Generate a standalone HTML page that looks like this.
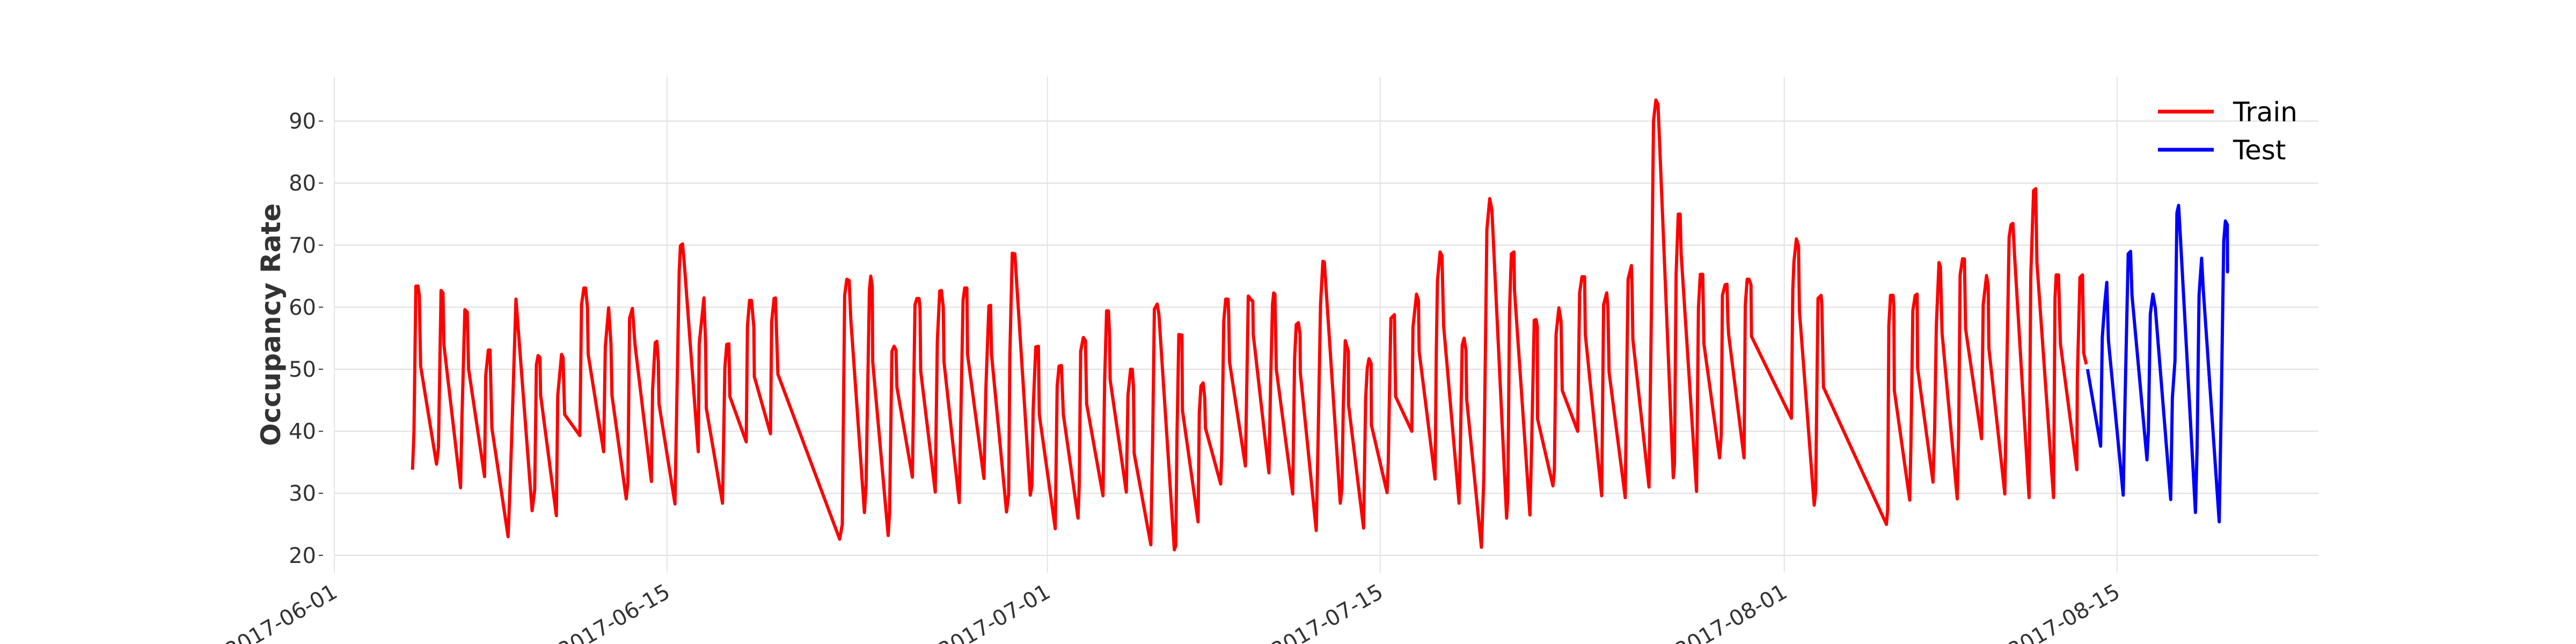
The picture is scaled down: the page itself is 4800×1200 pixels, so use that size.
<!DOCTYPE html>
<html><head><meta charset="utf-8">
<style>
html,body{margin:0;padding:0;background:#fff;}
svg{display:block;}
text{font-family:"DejaVu Sans","Liberation Sans",sans-serif;}
</style></head>
<body>
<svg id="chart" width="4800" height="1200" viewBox="0 0 4800 1200" xmlns="http://www.w3.org/2000/svg">
<g id="grid"></g>
<g id="yaxis"></g>
<g id="xaxis"></g>
<text x="0" y="0" transform="translate(522,605) rotate(-90)" text-anchor="middle" font-size="50" font-weight="bold" fill="#333">Occupancy Rate</text>
<g id="series"></g>
<g>
  <line x1="4021" y1="208" x2="4125" y2="208" stroke="#ff0000" stroke-width="7"/>
  <text x="4161" y="226" font-size="50" fill="#000">Train</text>
  <line x1="4021" y1="279" x2="4125" y2="279" stroke="#0000ff" stroke-width="7"/>
  <text x="4161" y="297" font-size="50" fill="#000">Test</text>
</g>
</svg>
<script>
// x values are days since 2017-06-01
const yTicks = [20,30,40,50,60,70,80,90];
const xTickDays = [0,14,30,44,61,75];
const xTickLabels = ["2017-06-01","2017-06-15","2017-07-01","2017-07-15","2017-08-01","2017-08-15"];

const trainDays = [3.29,3.35,3.43,3.52,3.575,3.63,4.30,4.38,4.49,4.57,4.61,5.31,5.37,5.49,5.59,5.65,6.32,6.37,6.48,6.55,6.63,7.31,7.39,7.46,7.64,8.32,8.43,8.50,8.57,8.65,8.68,9.34,9.40,9.56,9.62,9.69,10.33,10.40,10.50,10.57,10.65,10.68,11.33,11.40,11.54,11.64,11.68,12.28,12.35,12.42,12.54,12.65,13.34,13.39,13.50,13.57,13.63,13.66,14.33,14.51,14.56,14.65,14.73,15.31,15.35,15.55,15.62,15.65,16.33,16.43,16.51,16.60,16.64,17.33,17.38,17.47,17.55,17.65,17.67,18.35,18.40,18.50,18.56,18.66,
21.26,21.37,21.47,21.56,21.66,21.73,22.30,22.37,22.51,22.57,22.63,22.65,23.30,23.36,23.46,23.55,23.63,23.67,24.32,24.43,24.51,24.60,24.64,24.67,25.28,25.37,25.47,25.54,25.62,25.65,26.29,26.45,26.52,26.61,26.64,27.33,27.41,27.54,27.61,27.65,28.28,28.37,28.42,28.52,28.63,29.28,29.35,29.40,29.51,29.62,29.66,30.33,30.41,30.49,30.59,30.67,31.29,31.34,31.40,31.51,31.60,31.65,32.34,32.41,32.49,32.57,32.61,32.64,33.32,33.39,33.50,33.57,33.62,33.65,34.35,34.43,34.50,34.62,34.69,
35.34,35.40,35.45,35.53,35.66,35.68,36.34,36.39,36.46,36.55,36.62,36.65,37.29,37.34,37.42,37.50,37.60,37.63,37.66,38.33,38.38,38.45,38.59,38.64,38.66,39.32,39.39,39.47,39.52,39.57,39.63,40.32,40.40,40.47,40.56,40.63,40.64,41.31,41.39,41.49,41.59,41.65,42.32,42.39,42.45,42.53,42.66,42.67,43.30,43.39,43.46,43.53,43.62,43.63,44.29,44.34,44.39,44.45,44.60,44.65,45.33,45.38,45.53,45.61,45.64,46.31,46.36,46.41,46.52,46.60,46.67,47.32,47.37,47.45,47.53,47.61,47.64,48.26,48.36,48.49,48.61,48.70,49.32,49.37,49.44,49.52,49.63,49.65,50.30,50.37,50.48,50.56,50.61,50.62,
51.27,51.33,51.40,51.52,51.61,51.66,52.31,52.39,52.49,52.60,52.63,53.32,53.40,53.53,53.58,53.63,54.31,54.36,54.43,54.57,54.60,54.63,55.31,55.40,55.50,55.60,55.69,56.33,56.38,56.45,56.54,56.62,56.66,57.31,57.39,57.47,57.57,57.62,58.28,58.35,58.40,58.51,58.59,58.63,58.66,59.31,59.36,59.44,59.52,59.60,59.62,61.30,61.36,61.41,61.51,61.60,61.64,62.26,62.32,62.42,62.55,62.58,62.65,65.30,65.35,65.40,65.47,65.58,65.61,65.63,66.28,66.33,66.41,66.51,66.59,66.61,
67.26,67.33,67.40,67.51,67.57,67.64,68.28,68.34,68.40,68.50,68.58,68.63,69.30,69.37,69.51,69.58,69.61,70.28,70.34,70.46,70.54,70.62,70.70,71.30,71.37,71.49,71.58,71.63,72.33,72.39,72.44,72.54,72.62,73.31,73.33,73.44,73.55,73.60,73.71];
const trainValues = [33.8,40.0,63.4,63.4,61.9,50.5,34.7,37.4,62.7,62.3,53.9,30.9,42.2,59.6,59.2,50.0,32.7,49.0,53.1,53.1,40.5,23.0,30.8,38.8,61.3,27.2,30.6,50.7,52.2,51.9,45.8,26.4,45.8,52.4,51.9,42.7,39.3,60.4,63.1,63.1,59.9,52.4,36.7,53.6,59.9,54.1,45.8,29.1,31.8,58.2,59.8,53.9,31.9,46.6,54.3,54.5,51.2,44.4,28.3,65.7,69.9,70.2,66.7,36.7,54.1,61.5,54.1,43.7,28.4,50.2,54.0,54.1,45.6,38.3,57.0,61.1,61.1,56.8,48.8,39.6,57.7,61.4,61.5,49.2,
22.6,25.0,61.9,64.5,64.3,58.0,26.9,31.3,62.8,65.0,63.3,51.2,23.2,26.9,52.9,53.7,53.1,47.1,32.6,60.4,61.4,61.4,59.9,49.7,30.2,54.6,62.6,62.7,59.9,51.2,28.5,61.1,63.1,63.1,52.4,32.4,46.8,60.2,60.3,52.4,27.0,29.8,52.2,68.7,68.6,29.7,31.3,43.4,53.6,53.7,42.7,24.3,47.3,50.5,50.6,42.7,26.0,31.3,52.9,55.1,54.6,44.4,29.6,48.3,59.4,59.4,55.8,48.3,30.2,45.8,50.0,50.0,47.3,36.4,21.7,39.3,59.7,60.5,58.9,
20.9,21.6,39.0,55.6,55.5,43.4,25.4,42.9,47.3,47.8,45.4,40.5,31.5,37.1,57.7,61.3,61.3,58.5,51.2,34.4,45.8,61.8,61.1,61.0,55.6,33.3,47.8,60.4,62.3,62.1,50.0,29.9,51.7,57.2,57.5,55.6,49.5,24.0,39.1,60.4,67.4,67.3,28.4,30.8,44.4,54.6,52.9,44.2,24.4,45.4,50.2,51.7,50.9,41.0,30.1,34.9,45.8,58.2,58.8,45.6,40.0,56.8,62.1,61.1,52.9,32.3,52.6,64.3,68.9,68.3,57.0,28.4,36.6,53.9,55.0,53.1,45.1,21.3,32.5,72.5,77.5,75.7,26.0,29.3,59.0,68.6,68.9,62.8,26.5,37.4,57.9,58.0,56.8,42.0,
31.2,33.7,55.6,59.9,57.7,46.6,40.0,62.3,64.9,64.9,55.6,29.6,60.4,62.3,59.9,49.5,29.3,44.9,64.5,66.7,62.8,54.8,31.0,56.0,90.0,93.4,92.7,32.5,34.7,65.3,75.0,75.0,68.7,30.3,59.9,65.3,65.3,54.1,35.7,39.5,61.9,63.6,63.7,57.7,55.6,35.7,60.4,64.5,64.5,63.6,55.3,42.1,62.8,67.4,71.0,69.9,59.4,28.1,30.3,61.4,61.9,60.4,47.1,25.0,27.4,57.0,61.9,61.9,59.9,46.6,28.9,38.1,59.4,61.9,62.1,50.2,
31.8,40.5,57.0,67.2,66.5,55.8,29.1,40.5,65.2,67.8,67.8,56.5,38.8,60.4,65.1,63.5,53.4,29.9,44.9,71.3,73.3,73.5,67.7,29.3,64.8,78.8,79.1,67.2,29.3,61.4,65.2,65.2,54.1,33.8,48.5,64.8,65.2,52.6,50.8];

const testDays = [73.76,74.31,74.38,74.48,74.57,74.64,75.26,75.34,75.47,75.57,75.63,76.26,76.32,76.40,76.51,76.61,77.26,77.33,77.44,77.52,77.59,77.65,78.30,78.37,78.45,78.56,78.63,79.30,79.39,79.49,79.56,79.64,79.65,79.70];
const testValues = [50.0,37.6,55.1,60.4,64.0,54.6,29.7,45.4,68.6,69.0,61.9,35.4,40.0,58.9,62.1,59.9,29.0,45.4,51.4,75.2,76.4,72.5,26.9,37.4,61.9,67.9,62.8,25.4,45.4,70.6,73.9,73.3,65.7,65.7];

const NS = "http://www.w3.org/2000/svg";
const PL = 623, PR = 4320, PT = 143, PB = 1067;
function xs(d){ return 623 + d * 44.29; }
function ys(v){ return 225.6 + (90 - v) * 11.56; }
function mk(tag, attrs, parent){
  const e = document.createElementNS(NS, tag);
  for (const k in attrs) e.setAttribute(k, attrs[k]);
  parent.appendChild(e);
  return e;
}
const grid = document.getElementById('grid');
const yaxis = document.getElementById('yaxis');
const xaxis = document.getElementById('xaxis');
const series = document.getElementById('series');

yTicks.forEach(function(v){
  const y = ys(v);
  const gl = mk('line', {x1:PL, x2:PR, y1:y, y2:y, stroke:'#dedede', 'stroke-width':2}, grid);
  
  
  const tk = mk('line', {x1:594, x2:602, y1:y, y2:y, stroke:'#333', 'stroke-width':2}, yaxis);
  
  
  const t = mk('text', {x:589, y:y + 14, 'text-anchor':'end', 'font-size':40, fill:'#333'}, yaxis);
  
  
  t.textContent = String(v);
});

xTickDays.forEach(function(d, i){
  const x = xs(d);
  const gl = mk('line', {x1:x, x2:x, y1:PT, y2:PB, stroke:'#e4e4e4', 'stroke-width':2}, grid);
  
  
  const ax = x - 6, ay = 1086;
  const t = mk('text', {x:ax, y:ay, 'text-anchor':'end', 'dominant-baseline':'hanging', 'font-size':40, fill:'#333', transform:'rotate(-30 ' + ax + ' ' + ay + ')'}, xaxis);
  
  
  t.textContent = xTickLabels[i];
});

function pathFrom(days, vals){
  return days.map(function(d, i){ return (i ? 'L' : 'M') + xs(d).toFixed(1) + ' ' + ys(vals[i]).toFixed(1); }).join(' ');
}
const tr = mk('path', {d:pathFrom(trainDays, trainValues), fill:'none', stroke:'#ff0000', 'stroke-width':6, 'stroke-linejoin':'round'}, series);


const te = mk('path', {d:pathFrom(testDays, testValues), fill:'none', stroke:'#0000ff', 'stroke-width':6, 'stroke-linejoin':'round'}, series);


</script>
</body></html>
